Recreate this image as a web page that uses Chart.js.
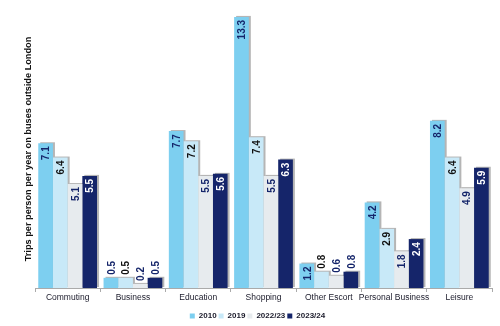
<!DOCTYPE html>
<html>
<head>
<meta charset="utf-8">
<script src="https://cdn.jsdelivr.net/npm/chart.js@4/dist/chart.umd.min.js"></script>
<style>
  html, body { margin: 0; padding: 0; background: #fff; }
  #wrap { width: 500px; height: 326px; }
</style>
</head>
<body>
<div id="wrap"><canvas id="chart"></canvas></div>
<script>
const categories = ['Commuting', 'Business', 'Education', 'Shopping', 'Other Escort', 'Personal Business', 'Leisure'];
const seriesNames = ['2010', '2019', '2022/23', '2023/24'];
const values2010 = [7.1, 0.5, 7.7, 13.3, 1.2, 4.2, 8.2];
const values2019 = [6.4, 0.5, 7.2, 7.4, 0.8, 2.9, 6.4];
const values2223 = [5.1, 0.2, 5.5, 5.5, 0.6, 1.8, 4.9];
const values2324 = [5.5, 0.5, 5.6, 6.3, 0.8, 2.4, 5.9];

const colors = ['#7dcff0', '#c8e9f8', '#e7ebee', '#15256a'];
const labelInside = ['#15256a', '#111111', '#15256a', '#ffffff'];
const labelOutside = ['#15256a', '#111111', '#15256a', '#15256a'];

const allValues = [values2010, values2019, values2223, values2324];

// grey shadow behind each bar (shows where the next bar is lower)
const shadowPlugin = {
  id: 'shadow',
  beforeDatasetsDraw(chart) {
    const ctx = chart.ctx;
    ctx.save();
    ctx.fillStyle = 'rgba(120,120,120,0.55)';
    chart.data.datasets.forEach((ds, i) => {
      chart.getDatasetMeta(i).data.forEach(bar => {
        const w = bar.width;
        ctx.fillRect(bar.x - w / 2 + 2, bar.y - 1, w, bar.base - bar.y);
      });
    });
    ctx.restore();
  }
};

const valueLabels = {
  id: 'valueLabels',
  afterDatasetsDraw(chart) {
    const ctx = chart.ctx;
    ctx.save();
    ctx.font = 'bold 10px "Liberation Sans", Arial, sans-serif';
    ctx.textBaseline = 'middle';
    chart.data.datasets.forEach((ds, i) => {
      const meta = chart.getDatasetMeta(i);
      meta.data.forEach((bar, j) => {
        const txt = ds.data[j].toFixed(1);
        const h = bar.base - bar.y;
        ctx.save();
        if (h > 22) {
          ctx.translate(bar.x, bar.y + 3);
          ctx.rotate(-Math.PI / 2);
          ctx.textAlign = 'right';
          ctx.fillStyle = labelInside[i];
        } else {
          ctx.translate(bar.x, bar.y - 3);
          ctx.rotate(-Math.PI / 2);
          ctx.textAlign = 'left';
          ctx.fillStyle = labelOutside[i];
        }
        ctx.fillText(txt, 0, 1);
        ctx.restore();
      });
    });
    ctx.restore();
  }
};

new Chart(document.getElementById('chart'), {
  type: 'bar',
  data: {
    labels: categories,
    datasets: seriesNames.map((name, i) => ({
      label: name,
      data: allValues[i],
      backgroundColor: colors[i],
      categoryPercentage: 0.9,
      barPercentage: 1.0
    }))
  },
  options: {
    responsive: true,
    maintainAspectRatio: false,
    animation: false,
    layout: { padding: { left: 23, right: 8, top: 10, bottom: -4 } },
    plugins: {
      tooltip: { enabled: false },
      legend: {
        position: 'bottom',
        labels: {
          boxWidth: 5,
          boxHeight: 5,
          padding: 2,
          color: '#1a1a2a',
          font: { size: 8, weight: 'bold', family: '"Liberation Sans", Arial, sans-serif' }
        }
      }
    },
    scales: {
      x: {
        afterFit(scale) { scale.height = 22; },
        grid: { display: true, drawOnChartArea: false, drawTicks: true, tickLength: 4, color: '#aaa', offset: true },
        border: { display: true, color: '#aaa' },
        ticks: { color: '#1a1a2a', font: { size: 8.5, family: '"Liberation Sans", Arial, sans-serif' }, maxRotation: 0, autoSkip: false, padding: 1 }
      },
      y: {
        min: 0,
        max: 13.64,
        afterFit(scale) { scale.width = 12; },
        grid: { display: false },
        border: { display: false },
        ticks: { display: false, padding: 0 },
        title: {
          display: true,
          text: 'Trips per person per year on buses outside London',
          color: '#111',
          font: { size: 9.2, weight: 'bold', family: '"Liberation Sans", Arial, sans-serif' },
          padding: 0
        }
      }
    }
  },
  plugins: [shadowPlugin, valueLabels]
});
</script>
</body>
</html>
